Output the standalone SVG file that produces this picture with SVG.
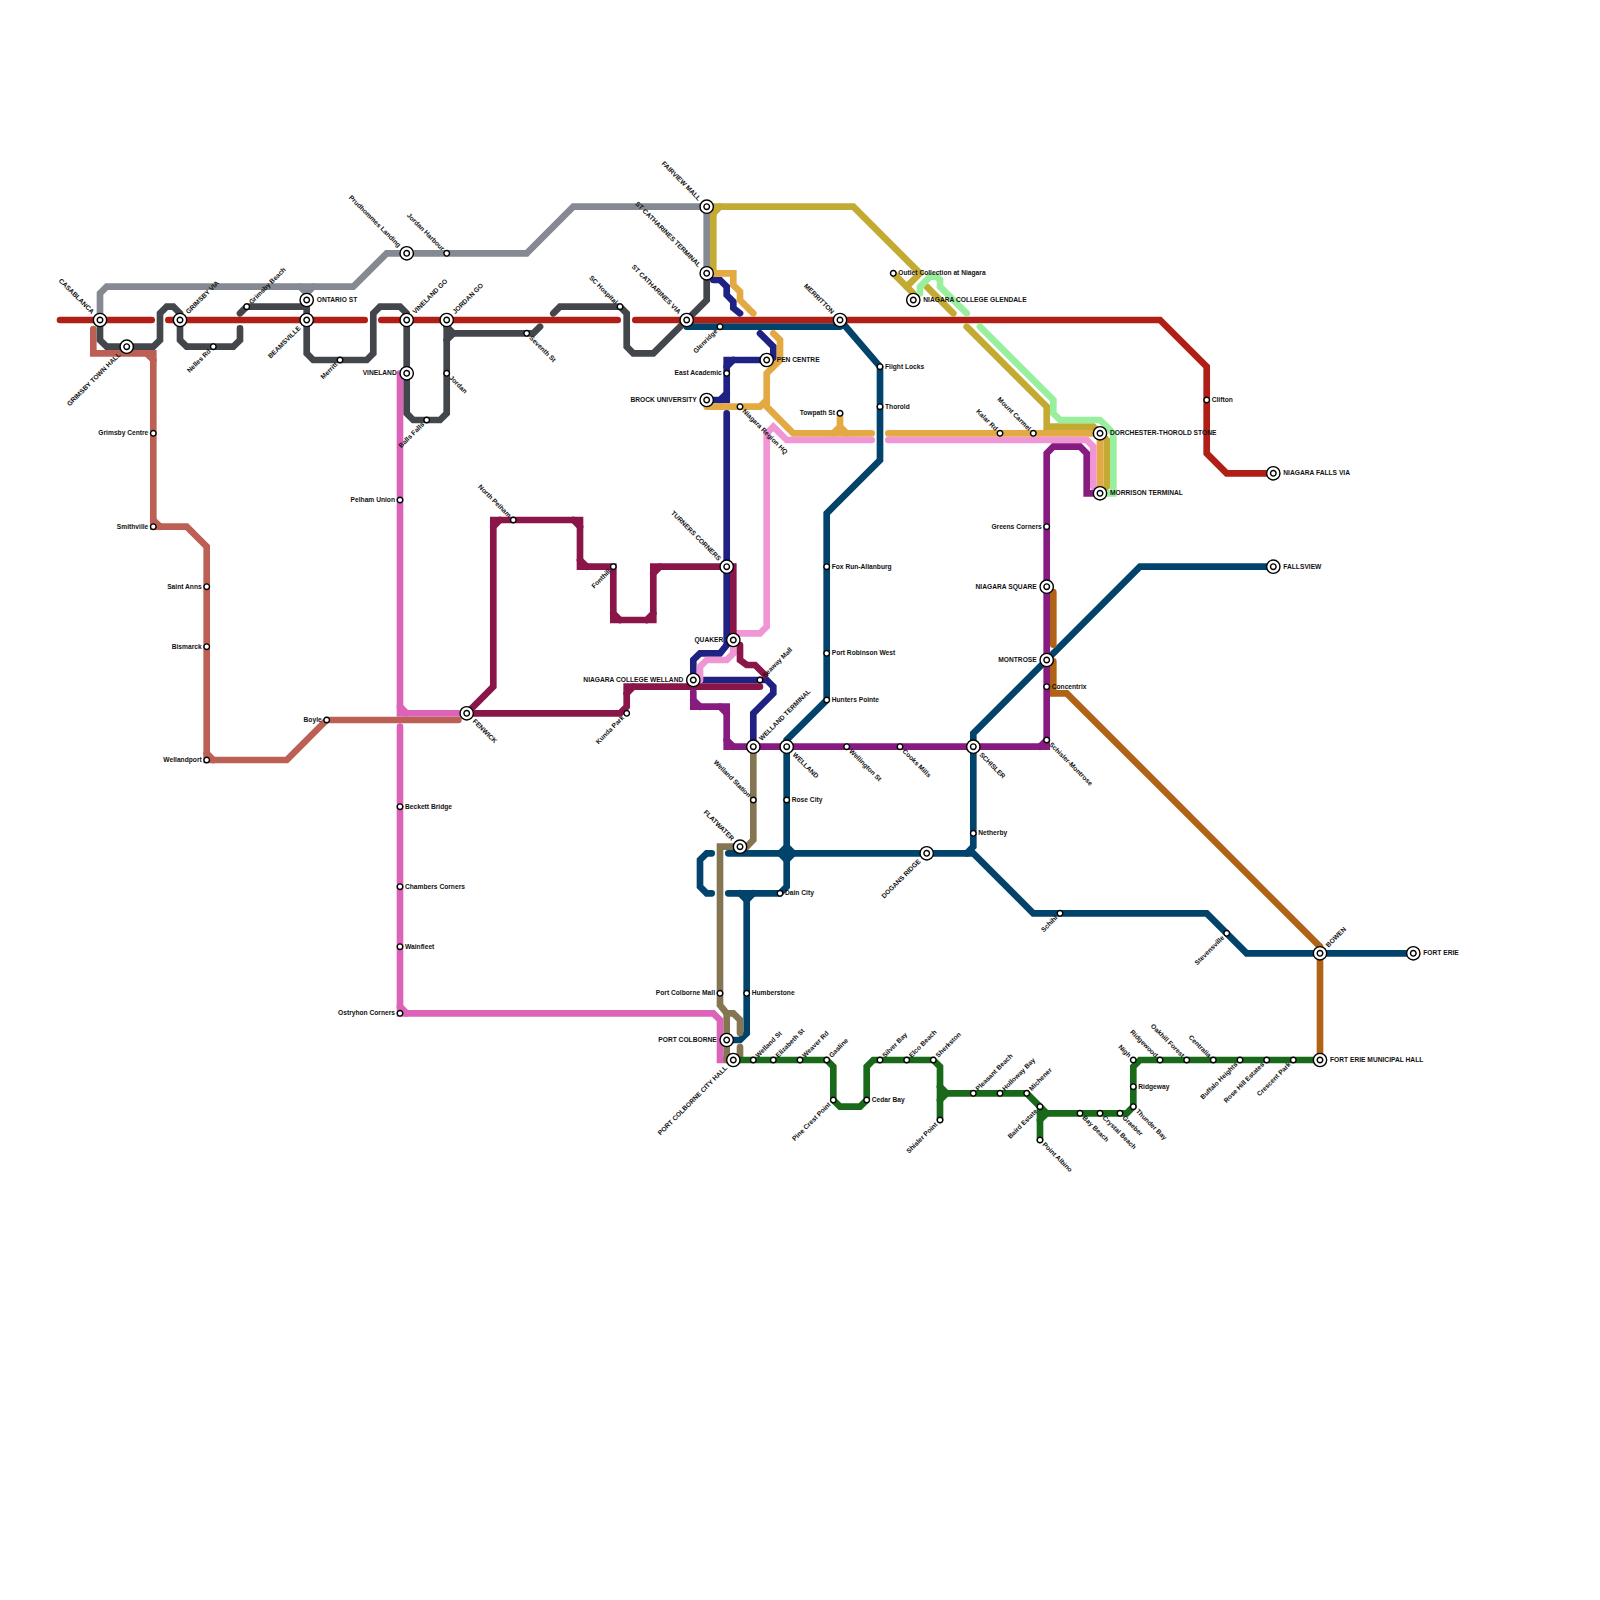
<svg xmlns="http://www.w3.org/2000/svg" width="1600" height="1600" viewBox="0 0 1600 1600">
<style>
.ln{fill:none;stroke-width:6.67;stroke-linecap:round;stroke-linejoin:miter}
.red{stroke:#b01f16}.gray{stroke:#858a92}.dark{stroke:#43474c}.sal{stroke:#bc6055}.mag{stroke:#dc64b8}.mar{stroke:#8a1549}.navy{stroke:#1f2183}.lpk{stroke:#f096d4}.org{stroke:#e3aa44}.gold{stroke:#c3ab33}.lgr{stroke:#98f09e}.teal{stroke:#02436c}.pur{stroke:#871c80}.brn{stroke:#b06215}.tan{stroke:#857553}.grn{stroke:#1a681a}
.s{fill:#fff;stroke:#000;stroke-width:1.4}
text{font-family:"Liberation Sans",Arial,sans-serif;font-size:6.67px;font-weight:700;fill:#111}
.a{text-anchor:start}.z{text-anchor:end}
</style>
<defs>
<g id="hub"><circle class="s" r="6.67"/><circle class="s" r="2.8"/></g>
<circle id="stop" class="s" r="2.8"/>
</defs>
<rect width="1600" height="1600" fill="#fff"/>
<g id="connectors">
<path class="ln gray" d="M100,320V293.3L106.7,286.7H353.3L386.7,253.3H526.7L573.3,206.7H706.7V273.3"/>
<path class="ln gray" d="M300,286.7L306.7,293.3L313.3,286.7"/>
<path class="ln sal" d="M93.3,329V353.3H153.3V526.7H186.7L206.7,546.7V760H286.7L326.7,720H458.4"/>
<path class="ln sal" d="M146.7,353.3L153.3,360M153.3,520L160,526.7M206.7,753.3L213.3,760"/>
<path class="ln mag" d="M400,373.3V713.3H466.7"/>
<path class="ln mag" d="M400,706.7L406.7,713.3"/>
<path class="ln mag" d="M400,726.7V1013.3H713.3L720,1020V1060H733.3"/>
<path class="ln mag" d="M400,1006.7L406.7,1013.3"/>
<path class="ln teal" d="M686.7,326.7H840"/>
<path class="ln teal" d="M840,320L880,366.7V460L826.7,513.3V700L786.7,740V853.3"/>
<path class="ln teal" d="M728.3,853.3H966.7L973.3,846.7V733.3L1140,566.7H1273.3"/>
<path class="ln teal" d="M711.7,853.3H706.7L700,860V886.7L706.7,893.3H711.7"/>
<path class="ln teal" d="M728.3,893.3H780L786.7,886.7V853.3"/>
<path class="ln teal" d="M746.7,893.3V1033.3L740,1040H726.7"/>
<path class="ln teal" d="M740,893.3L746.7,900L753.3,893.3"/>
<path class="ln teal" d="M780,853.3L786.7,846.7L793.3,853.3L786.7,860Z"/>
<path class="ln teal" d="M966.7,853.3H973.3L1033.3,913.3H1206.7L1246.7,953.3H1413.3"/>
<path class="ln dark" d="M100,320V340L106.7,346.7H153.3L160,340V313.3L166.7,306.7H173.3L180,313.3V340L186.7,346.7H233.3L240,340V328.3"/>
<path class="ln dark" d="M240,313.3L246.7,306.7H306.7"/>
<path class="ln dark" d="M306.7,300V353.3L313.3,360H366.7L373.3,353.3V313.3L380,306.7H400L406.7,313.3V413.3L413.3,420H440L446.7,413.3V320"/>
<path class="ln dark" d="M446.7,326.7L453.3,333.3H533.3L540,326.7"/>
<path class="ln dark" d="M446.7,340L453.3,333.3"/>
<path class="ln dark" d="M553.3,313.3L560,306.7H620L626.7,313.3V346.7L633.3,353.3H653.3L706.7,300V273.3"/>
<path class="ln red" d="M60,320H151.7"/>
<path class="ln red" d="M168.3,320H364.7"/>
<path class="ln red" d="M381.3,320H617.7"/>
<path class="ln red" d="M635.3,320H1160L1206.7,366.7V453.3L1226.7,473.3H1273.3"/>
<path class="ln gold" d="M713.3,273.3V206.7H853.3L920,273.3L906.7,286.7"/>
<path class="ln gold" d="M713.3,213.3L720,206.7"/>
<path class="ln gold" d="M893.3,273.3L913.3,293.3"/>
<path class="ln gold" d="M926.7,286.7L953.3,313.3"/>
<path class="ln gold" d="M966.7,326.7L1046.7,406.7V426.7H1093.3L1106.7,440V486.7L1100,493.3"/>
<path class="ln lgr" d="M920,293.3V286.7L930,276.7H936.7L940,280V286.7L966.7,313.3"/>
<path class="ln lgr" d="M980,326.7L1053.3,400V413.3L1060,420H1100L1113.3,433.3V493.3H1100"/>
<path class="ln navy" d="M713.3,280H720L726.7,286.7V295L733.3,301.7V308L740,313.3"/>
<path class="ln navy" d="M760,333.3L773.3,346.7V360H726.7V400H706.7"/>
<path class="ln navy" d="M726.7,366.7L733.3,360M720,400L726.7,393.3"/>
<path class="ln navy" d="M726.7,413.3V645L720,653.3H700L693.3,660V680H766.7L773.3,686.7V693.3L753.3,713.3V746.7"/>
<path class="ln org" d="M706.7,273.3H733.3V285L740,291.7V300L753.3,313.3"/>
<path class="ln org" d="M773.3,333.3L780,340V360L766.7,373.3V406.7L793.3,433.3H871.7"/>
<path class="ln org" d="M766.7,400L760,406.7H706.7"/>
<path class="ln org" d="M833.3,433.3L840,426.7V413.3"/>
<path class="ln org" d="M840,426.7L846.7,433.3"/>
<path class="ln org" d="M888.3,433.3H1100V493.3"/>
<path class="ln lpk" d="M766.7,433.3L773.3,426.7L786.7,440H871.7"/>
<path class="ln lpk" d="M888.3,440H1086.7L1093.3,446.7V486.7L1100,493.3"/>
<path class="ln lpk" d="M766.7,433.3V626.7L760,633.3H733.3"/>
<path class="ln lpk" d="M733.3,640V653.3L726.7,660H706.7L700,666.7V680"/>
<path class="ln mar" d="M466.7,713.3L493.3,686.7V520H580V566.7H613.3V620H653.3V566.7H733.3V640"/>
<path class="ln mar" d="M493.3,526.7L500,520M580,560L586.7,566.7M613.3,613.3L620,620M646.7,620L653.3,613.3M653.3,573.3L660,566.7M573.3,520L580,526.7"/>
<path class="ln mar" d="M740,645V660L746.7,665H755L765,675"/>
<path class="ln mar" d="M466.7,713.3H620L626.7,706.7V686.7H760"/>
<path class="ln mar" d="M626.7,693.3L633.3,686.7"/>
<path class="ln brn" d="M1053.3,592V644.7"/>
<path class="ln brn" d="M1053.3,661.3V693.3H1066.7L1316,942.6L1320,946.7V1060"/>
<path class="ln pur" d="M693.3,691.7V706.7H726.7V746.7H1046.7V453.3L1053.3,446.7H1080L1086.7,453.3V493.3H1100"/>
<path class="ln pur" d="M693.3,700L700,706.7M720,706.7L726.7,713.3M726.7,740L733.3,746.7M1040,746.7L1046.7,740"/>
<path class="ln tan" d="M753.3,746.7V840L746.7,846.7H720V1005L726.7,1013.3H733.3L740,1020V1033"/>
<path class="ln tan" d="M726.7,1013.3V1060"/>
<path class="ln tan" d="M740,1047V1060"/>
<path class="ln grn" d="M733.3,1060H826.7L833.3,1066.7V1100L840,1106.7H860L866.7,1100V1066.7L873.3,1060H933.3L940,1066.7V1120"/>
<path class="ln grn" d="M940,1086.7L946.7,1093.3H1026.7L1040,1106.7V1140"/>
<path class="ln grn" d="M940,1100L946.7,1093.3"/>
<path class="ln grn" d="M1040,1106.7L1046.7,1113.3H1126.7L1133.3,1106.7V1066.7L1140,1060H1320"/>
<path class="ln grn" d="M1040,1120L1046.7,1113.3"/>
</g>
<g id="n1"><use href="#hub" x="100" y="320"/><text class="z" transform="translate(100 320) rotate(45)" x="-10" y="2">CASABLANCA</text></g>
<g id="n2"><use href="#hub" x="126.7" y="346.7"/><text class="z" transform="translate(126.7 346.7) rotate(-45)" x="-10" y="2">GRIMSBY TOWN HALL</text></g>
<g id="n3"><use href="#hub" x="180" y="320"/><text class="a" transform="translate(180 320) rotate(-45)" x="10" y="2">GRIMSBY VIA</text></g>
<g id="n4"><use href="#stop" x="213.3" y="346.7"/><text class="z" transform="translate(213.3 346.7) rotate(-45)" x="-5" y="2">Nelles Rd</text></g>
<g id="n5"><use href="#stop" x="246.7" y="306.7"/><text class="a" transform="translate(246.7 306.7) rotate(-45)" x="5" y="2">Grimsby Beach</text></g>
<g id="n6"><use href="#hub" x="306.7" y="300"/><text class="a" transform="translate(306.7 300)" x="10" y="2">ONTARIO ST</text></g>
<g id="n7"><use href="#hub" x="306.7" y="320"/><text class="z" transform="translate(306.7 320) rotate(-45)" x="-10" y="2">BEAMSVILLE</text></g>
<g id="n8"><use href="#stop" x="340" y="360"/><text class="z" transform="translate(340 360) rotate(-45)" x="-5" y="2">Merritt</text></g>
<g id="n9"><use href="#hub" x="406.7" y="320"/><text class="a" transform="translate(406.7 320) rotate(-45)" x="10" y="2">VINELAND GO</text></g>
<g id="n10"><use href="#hub" x="406.7" y="373.3"/><text class="z" transform="translate(406.7 373.3)" x="-10" y="2">VINELAND</text></g>
<g id="n11"><use href="#stop" x="426.7" y="420"/><text class="z" transform="translate(426.7 420) rotate(-45)" x="-5" y="2">Balls Falls</text></g>
<g id="n12"><use href="#hub" x="446.7" y="320"/><text class="a" transform="translate(446.7 320) rotate(-45)" x="10" y="2">JORDAN GO</text></g>
<g id="n13"><use href="#stop" x="446.7" y="373.3"/><text class="a" transform="translate(446.7 373.3) rotate(45)" x="5" y="2">Jordan</text></g>
<g id="n14"><use href="#stop" x="446.7" y="253.3"/><text class="z" transform="translate(446.7 253.3) rotate(45)" x="-5" y="2">Jordan Harbour</text></g>
<g id="n15"><use href="#hub" x="406.7" y="253.3"/><text class="z" transform="translate(406.7 253.3) rotate(45)" x="-10" y="2">Prudhommes Landing</text></g>
<g id="n16"><use href="#stop" x="526.7" y="333.3"/><text class="a" transform="translate(526.7 333.3) rotate(45)" x="5" y="2">Seventh St</text></g>
<g id="n17"><use href="#stop" x="620" y="306.7"/><text class="z" transform="translate(620 306.7) rotate(45)" x="-5" y="2">SC Hospital</text></g>
<g id="n18"><use href="#hub" x="686.7" y="320"/><text class="z" transform="translate(686.7 320) rotate(45)" x="-10" y="2">ST CATHARINES VIA</text></g>
<g id="n19"><use href="#hub" x="706.7" y="273.3"/><text class="z" transform="translate(706.7 273.3) rotate(45)" x="-10" y="2">ST CATHARINES TERMINAL</text></g>
<g id="n20"><use href="#hub" x="706.7" y="206.7"/><text class="z" transform="translate(706.7 206.7) rotate(45)" x="-10" y="2">FAIRVIEW MALL</text></g>
<g id="n21"><use href="#stop" x="720" y="326.7"/><text class="z" transform="translate(720 326.7) rotate(-45)" x="-5" y="2">Glenridge</text></g>
<g id="n22"><use href="#hub" x="840" y="320"/><text class="z" transform="translate(840 320) rotate(45)" x="-10" y="2">MERRITTON</text></g>
<g id="n23"><use href="#hub" x="766.7" y="360"/><text class="a" transform="translate(766.7 360)" x="10" y="2">PEN CENTRE</text></g>
<g id="n24"><use href="#stop" x="726.7" y="373.3"/><text class="z" transform="translate(726.7 373.3)" x="-5" y="2">East Academic</text></g>
<g id="n25"><use href="#hub" x="706.7" y="400"/><text class="z" transform="translate(706.7 400)" x="-10" y="2">BROCK UNIVERSITY</text></g>
<g id="n26"><use href="#stop" x="740" y="406.7"/><text class="a" transform="translate(740 406.7) rotate(45)" x="5" y="2">Niagara Region HQ</text></g>
<g id="n27"><use href="#stop" x="840" y="413.3"/><text class="z" transform="translate(840 413.3)" x="-5" y="2">Towpath St</text></g>
<g id="n28"><use href="#stop" x="880" y="366.7"/><text class="a" transform="translate(880 366.7)" x="5" y="2">Flight Locks</text></g>
<g id="n29"><use href="#stop" x="880" y="406.7"/><text class="a" transform="translate(880 406.7)" x="5" y="2">Thorold</text></g>
<g id="n30"><use href="#stop" x="893.3" y="273.3"/><text class="a" transform="translate(893.3 273.3)" x="5" y="2">Outlet Collection at Niagara</text></g>
<g id="n31"><use href="#hub" x="913.3" y="300"/><text class="a" transform="translate(913.3 300)" x="10" y="2">NIAGARA COLLEGE GLENDALE</text></g>
<g id="n32"><use href="#stop" x="1000" y="433.3"/><text class="z" transform="translate(1000 433.3) rotate(45)" x="-5" y="2">Kalar Rd</text></g>
<g id="n33"><use href="#stop" x="1033.3" y="433.3"/><text class="z" transform="translate(1033.3 433.3) rotate(45)" x="-5" y="2">Mount Carmel</text></g>
<g id="n34"><use href="#hub" x="1100" y="433.3"/><text class="a" transform="translate(1100 433.3)" x="10" y="2">DORCHESTER-THOROLD STONE</text></g>
<g id="n35"><use href="#hub" x="1100" y="493.3"/><text class="a" transform="translate(1100 493.3)" x="10" y="2">MORRISON TERMINAL</text></g>
<g id="n36"><use href="#stop" x="1206.7" y="400"/><text class="a" transform="translate(1206.7 400)" x="5" y="2">Clifton</text></g>
<g id="n37"><use href="#hub" x="1273.3" y="473.3"/><text class="a" transform="translate(1273.3 473.3)" x="10" y="2">NIAGARA FALLS VIA</text></g>
<g id="n38"><use href="#hub" x="1273.3" y="566.7"/><text class="a" transform="translate(1273.3 566.7)" x="10" y="2">FALLSVIEW</text></g>
<g id="n39"><use href="#stop" x="1046.7" y="526.7"/><text class="z" transform="translate(1046.7 526.7)" x="-5" y="2">Greens Corners</text></g>
<g id="n40"><use href="#hub" x="1046.7" y="586.7"/><text class="z" transform="translate(1046.7 586.7)" x="-10" y="2">NIAGARA SQUARE</text></g>
<g id="n41"><use href="#hub" x="1046.7" y="660"/><text class="z" transform="translate(1046.7 660)" x="-10" y="2">MONTROSE</text></g>
<g id="n42"><use href="#stop" x="1046.7" y="686.7"/><text class="a" transform="translate(1046.7 686.7)" x="5" y="2">Concentrix</text></g>
<g id="n43"><use href="#stop" x="1046.7" y="740"/><text class="a" transform="translate(1046.7 740) rotate(45)" x="5" y="2">Schisler-Montrose</text></g>
<g id="n44"><use href="#hub" x="973.3" y="746.7"/><text class="a" transform="translate(973.3 746.7) rotate(45)" x="10" y="2">SCHISLER</text></g>
<g id="n45"><use href="#stop" x="900" y="746.7"/><text class="a" transform="translate(900 746.7) rotate(45)" x="5" y="2">Cooks Mills</text></g>
<g id="n46"><use href="#stop" x="846.7" y="746.7"/><text class="a" transform="translate(846.7 746.7) rotate(45)" x="5" y="2">Wellington St</text></g>
<g id="n47"><use href="#hub" x="786.7" y="746.7"/><text class="a" transform="translate(786.7 746.7) rotate(45)" x="10" y="2">WELLAND</text></g>
<g id="n48"><use href="#hub" x="753.3" y="746.7"/><text class="a" transform="translate(753.3 746.7) rotate(-45)" x="10" y="2">WELLAND TERMINAL</text></g>
<g id="n49"><use href="#stop" x="760" y="680"/><text class="a" transform="translate(760 680) rotate(-45)" x="5" y="2">Seaway Mall</text></g>
<g id="n50"><use href="#hub" x="733.3" y="640"/><text class="z" transform="translate(733.3 640)" x="-10" y="2">QUAKER</text></g>
<g id="n51"><use href="#hub" x="693.3" y="680"/><text class="z" transform="translate(693.3 680)" x="-10" y="2">NIAGARA COLLEGE WELLAND</text></g>
<g id="n52"><use href="#hub" x="726.7" y="566.7"/><text class="z" transform="translate(726.7 566.7) rotate(45)" x="-10" y="2">TURNERS CORNERS</text></g>
<g id="n53"><use href="#stop" x="613.3" y="566.7"/><text class="z" transform="translate(613.3 566.7) rotate(-45)" x="-5" y="2">Fonthill</text></g>
<g id="n54"><use href="#stop" x="513.3" y="520"/><text class="z" transform="translate(513.3 520) rotate(45)" x="-5" y="2">North Pelham</text></g>
<g id="n55"><use href="#stop" x="626.7" y="713.3"/><text class="z" transform="translate(626.7 713.3) rotate(-45)" x="-5" y="2">Kunda Park</text></g>
<g id="n56"><use href="#hub" x="466.7" y="713.3"/><text class="a" transform="translate(466.7 713.3) rotate(45)" x="10" y="2">FENWICK</text></g>
<g id="n57"><use href="#stop" x="326.7" y="720"/><text class="z" transform="translate(326.7 720)" x="-5" y="2">Boyle</text></g>
<g id="n58"><use href="#stop" x="400" y="500"/><text class="z" transform="translate(400 500)" x="-5" y="2">Pelham Union</text></g>
<g id="n59"><use href="#stop" x="400" y="806.7"/><text class="a" transform="translate(400 806.7)" x="5" y="2">Beckett Bridge</text></g>
<g id="n60"><use href="#stop" x="400" y="886.7"/><text class="a" transform="translate(400 886.7)" x="5" y="2">Chambers Corners</text></g>
<g id="n61"><use href="#stop" x="400" y="946.7"/><text class="a" transform="translate(400 946.7)" x="5" y="2">Wainfleet</text></g>
<g id="n62"><use href="#stop" x="400" y="1013.3"/><text class="z" transform="translate(400 1013.3)" x="-5" y="2">Ostryhon Corners</text></g>
<g id="n63"><use href="#stop" x="153.3" y="433.3"/><text class="z" transform="translate(153.3 433.3)" x="-5" y="2">Grimsby Centre</text></g>
<g id="n64"><use href="#stop" x="153.3" y="526.7"/><text class="z" transform="translate(153.3 526.7)" x="-5" y="2">Smithville</text></g>
<g id="n65"><use href="#stop" x="206.7" y="586.7"/><text class="z" transform="translate(206.7 586.7)" x="-5" y="2">Saint Anns</text></g>
<g id="n66"><use href="#stop" x="206.7" y="646.7"/><text class="z" transform="translate(206.7 646.7)" x="-5" y="2">Bismarck</text></g>
<g id="n67"><use href="#stop" x="206.7" y="760"/><text class="z" transform="translate(206.7 760)" x="-5" y="2">Wellandport</text></g>
<g id="n68"><use href="#stop" x="826.7" y="566.7"/><text class="a" transform="translate(826.7 566.7)" x="5" y="2">Fox Run-Allanburg</text></g>
<g id="n69"><use href="#stop" x="826.7" y="653.3"/><text class="a" transform="translate(826.7 653.3)" x="5" y="2">Port Robinson West</text></g>
<g id="n70"><use href="#stop" x="826.7" y="700"/><text class="a" transform="translate(826.7 700)" x="5" y="2">Hunters Pointe</text></g>
<g id="n71"><use href="#stop" x="786.7" y="800"/><text class="a" transform="translate(786.7 800)" x="5" y="2">Rose City</text></g>
<g id="n72"><use href="#stop" x="780" y="893.3"/><text class="a" transform="translate(780 893.3)" x="5" y="2">Dain City</text></g>
<g id="n73"><use href="#stop" x="753.3" y="800"/><text class="z" transform="translate(753.3 800) rotate(45)" x="-5" y="2">Welland Station</text></g>
<g id="n74"><use href="#hub" x="740" y="846.7"/><text class="z" transform="translate(740 846.7) rotate(45)" x="-10" y="2">FLATWATER</text></g>
<g id="n75"><use href="#hub" x="926.7" y="853.3"/><text class="z" transform="translate(926.7 853.3) rotate(-45)" x="-10" y="2">DOGANS RIDGE</text></g>
<g id="n76"><use href="#stop" x="973.3" y="833.3"/><text class="a" transform="translate(973.3 833.3)" x="5" y="2">Netherby</text></g>
<g id="n77"><use href="#stop" x="1060" y="913.3"/><text class="z" transform="translate(1060 913.3) rotate(-45)" x="-5" y="2">Schihl</text></g>
<g id="n78"><use href="#stop" x="1226.7" y="933.3"/><text class="z" transform="translate(1226.7 933.3) rotate(-45)" x="-5" y="2">Stevensville</text></g>
<g id="n79"><use href="#hub" x="1320" y="953.3"/><text class="a" transform="translate(1320 953.3) rotate(-45)" x="10" y="2">BOWEN</text></g>
<g id="n80"><use href="#hub" x="1413.3" y="953.3"/><text class="a" transform="translate(1413.3 953.3)" x="10" y="2">FORT ERIE</text></g>
<g id="n81"><use href="#stop" x="720" y="993.3"/><text class="z" transform="translate(720 993.3)" x="-5" y="2">Port Colborne Mall</text></g>
<g id="n82"><use href="#stop" x="746.7" y="993.3"/><text class="a" transform="translate(746.7 993.3)" x="5" y="2">Humberstone</text></g>
<g id="n83"><use href="#hub" x="726.7" y="1040"/><text class="z" transform="translate(726.7 1040)" x="-10" y="2">PORT COLBORNE</text></g>
<g id="n84"><use href="#hub" x="733.3" y="1060"/><text class="z" transform="translate(733.3 1060) rotate(-45)" x="-10" y="2">PORT COLBORNE CITY HALL</text></g>
<g id="n85"><use href="#stop" x="753.3" y="1060"/><text class="a" transform="translate(753.3 1060) rotate(-45)" x="5" y="2">Welland St</text></g>
<g id="n86"><use href="#stop" x="773.3" y="1060"/><text class="a" transform="translate(773.3 1060) rotate(-45)" x="5" y="2">Elizabeth St</text></g>
<g id="n87"><use href="#stop" x="800" y="1060"/><text class="a" transform="translate(800 1060) rotate(-45)" x="5" y="2">Weaver Rd</text></g>
<g id="n88"><use href="#stop" x="826.7" y="1060"/><text class="a" transform="translate(826.7 1060) rotate(-45)" x="5" y="2">Gasline</text></g>
<g id="n89"><use href="#stop" x="833.3" y="1100"/><text class="z" transform="translate(833.3 1100) rotate(-45)" x="-5" y="2">Pine Crest Point</text></g>
<g id="n90"><use href="#stop" x="866.7" y="1100"/><text class="a" transform="translate(866.7 1100)" x="5" y="2">Cedar Bay</text></g>
<g id="n91"><use href="#stop" x="880" y="1060"/><text class="a" transform="translate(880 1060) rotate(-45)" x="5" y="2">Silver Bay</text></g>
<g id="n92"><use href="#stop" x="906.7" y="1060"/><text class="a" transform="translate(906.7 1060) rotate(-45)" x="5" y="2">Elco Beach</text></g>
<g id="n93"><use href="#stop" x="933.3" y="1060"/><text class="a" transform="translate(933.3 1060) rotate(-45)" x="5" y="2">Sherkston</text></g>
<g id="n94"><use href="#stop" x="940" y="1120"/><text class="z" transform="translate(940 1120) rotate(-45)" x="-5" y="2">Shisler Point</text></g>
<g id="n95"><use href="#stop" x="973.3" y="1093.3"/><text class="a" transform="translate(973.3 1093.3) rotate(-45)" x="5" y="2">Pleasant Beach</text></g>
<g id="n96"><use href="#stop" x="1000" y="1093.3"/><text class="a" transform="translate(1000 1093.3) rotate(-45)" x="5" y="2">Holloway Bay</text></g>
<g id="n97"><use href="#stop" x="1026.7" y="1093.3"/><text class="a" transform="translate(1026.7 1093.3) rotate(-45)" x="5" y="2">Michener</text></g>
<g id="n98"><use href="#stop" x="1040" y="1106.7"/><text class="z" transform="translate(1040 1106.7) rotate(-45)" x="-5" y="2">Baird Estate</text></g>
<g id="n99"><use href="#stop" x="1040" y="1140"/><text class="a" transform="translate(1040 1140) rotate(45)" x="5" y="2">Point Albino</text></g>
<g id="n100"><use href="#stop" x="1080" y="1113.3"/><text class="a" transform="translate(1080 1113.3) rotate(45)" x="5" y="2">Bay Beach</text></g>
<g id="n101"><use href="#stop" x="1100" y="1113.3"/><text class="a" transform="translate(1100 1113.3) rotate(45)" x="5" y="2">Crystal Beach</text></g>
<g id="n102"><use href="#stop" x="1120" y="1113.3"/><text class="a" transform="translate(1120 1113.3) rotate(45)" x="5" y="2">Graeber</text></g>
<g id="n103"><use href="#stop" x="1133.3" y="1106.7"/><text class="a" transform="translate(1133.3 1106.7) rotate(45)" x="5" y="2">Thunder Bay</text></g>
<g id="n104"><use href="#stop" x="1133.3" y="1086.7"/><text class="a" transform="translate(1133.3 1086.7)" x="5" y="2">Ridgeway</text></g>
<g id="n105"><use href="#stop" x="1133.3" y="1060"/><text class="z" transform="translate(1133.3 1060) rotate(45)" x="-5" y="2">Nigh</text></g>
<g id="n106"><use href="#stop" x="1160" y="1060"/><text class="z" transform="translate(1160 1060) rotate(45)" x="-5" y="2">Ridgewood</text></g>
<g id="n107"><use href="#stop" x="1186.7" y="1060"/><text class="z" transform="translate(1186.7 1060) rotate(45)" x="-5" y="2">Oakhill Forest</text></g>
<g id="n108"><use href="#stop" x="1213.3" y="1060"/><text class="z" transform="translate(1213.3 1060) rotate(45)" x="-5" y="2">Centralia</text></g>
<g id="n109"><use href="#stop" x="1240" y="1060"/><text class="z" transform="translate(1240 1060) rotate(-45)" x="-5" y="2">Buffalo Heights</text></g>
<g id="n110"><use href="#stop" x="1266.7" y="1060"/><text class="z" transform="translate(1266.7 1060) rotate(-45)" x="-5" y="2">Rose Hill Estates</text></g>
<g id="n111"><use href="#stop" x="1293.3" y="1060"/><text class="z" transform="translate(1293.3 1060) rotate(-45)" x="-5" y="2">Crescent Park</text></g>
<g id="n112"><use href="#hub" x="1320" y="1060"/><text class="a" transform="translate(1320 1060)" x="10" y="2">FORT ERIE MUNICIPAL HALL</text></g>
</svg>
